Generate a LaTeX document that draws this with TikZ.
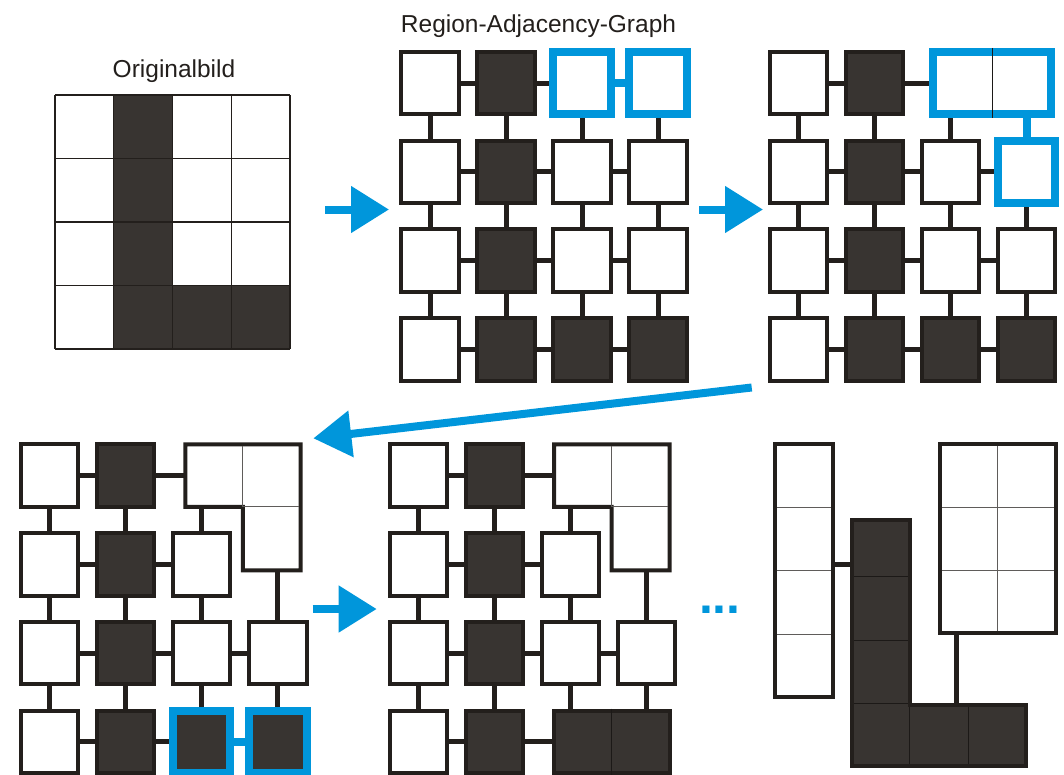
\documentclass[tikz,border=0pt]{standalone}
\usepackage{fontspec}
\setmainfont{Liberation Sans}
\usetikzlibrary{arrows.meta}

\definecolor{edge}{RGB}{35,31,28}
\definecolor{dfill}{RGB}{56,52,49}
\definecolor{rblue}{RGB}{0,150,219}
\definecolor{seamgray}{RGB}{95,92,90}
\definecolor{seamdark}{RGB}{28,25,23}

\pgfdeclarelayer{links}
\pgfsetlayers{links,main}

\tikzset{
  wsq/.style={rectangle, draw=edge, line width=4pt, fill=white, inner sep=0pt,
              minimum width=57.5pt, minimum height=62.5pt},
  dsq/.style={wsq, fill=dfill},
  bw/.style={wsq, draw=rblue, line width=8pt},
  bd/.style={dsq, draw=rblue, line width=8pt},
  region/.style={draw=edge, line width=4pt, line join=miter},
  link/.style={draw=edge, line width=5pt},
  blink/.style={draw=rblue, line width=8pt},
  seam/.style={draw=seamgray, line width=1pt},
  dseam/.style={draw=seamdark, line width=1pt},
  pixline/.style={draw=edge, line width=1.2pt},
  flow/.style={draw=rblue, line width=8pt, -{Triangle[length=38pt,width=45pt]}},
  lbl/.style={font=\fontsize{24.5}{29}\selectfont, text=edge, inner sep=0pt, anchor=base},
  more/.style={font=\fontsize{50}{60}\selectfont\bfseries, text=rblue, inner sep=0pt, anchor=base west},
}

% a panel of region squares: prefix, x of first column, y of first row, list col/row/style
\newcommand\squares[4]{%
  \foreach \c/\r/\s in {#4} {%
    \node[\s] (#1\c\r) at ({#2+(\c-1)*76.07},{#3+(\r-1)*88.75}) {};
  }%
}

% links along a row (columns 1-4) and down a column (rows from #3 to 4)
\newcommand\rowlinks[2]{\draw[link] (#11#2) -- (#12#2) (#12#2) -- (#13#2) (#13#2) -- (#14#2);}
\newcommand\collinks[2]{\draw[link] (#1#21) -- (#1#22) (#1#22) -- (#1#23) (#1#23) -- (#1#24);}

% merged L-shaped region (two cells on top, one below on the right)
\newcommand\Lregion[3]{%
  \draw[region, fill=white] (#2,#3) -- ++(115.4,0) -- ++(0,125.85) -- ++(-57.8,0)
        -- ++(0,-63.35) -- ++(-57.6,0) -- cycle;
  \draw[seam] (#2+57.6,#3+2) -- (#2+57.6,#3+62.5) -- (#2+113.4,#3+62.5);
  \coordinate (#1L) at (#2+57.6,#3+31.25);
  \coordinate (#1Llow) at (#2+86.5,#3+94.2);
}

\begin{document}
\begin{tikzpicture}[x=1pt,y=-1pt]
\useasboundingbox (0,0) rectangle (1064,774);

% ---------- original image ----------
\node[lbl] (title0) at (174,77.5) {Originalbild};
\fill[dfill] (113.75,95) rectangle (172.5,349);
\fill[dfill] (113.75,285.5) rectangle (290,349);
\foreach \x in {55,113.75,172.5,231.25,290} \draw[pixline] (\x,95) -- (\x,349);
\foreach \y in {95,158.5,222,285.5,349} \draw[pixline] (55,\y) -- (290,\y);

\node[lbl] (title1) at (538.5,32) {Region-Adjacency-Graph};

% ---------- step 1: full adjacency graph ----------
\squares{a}{430}{83}{1/1/wsq,2/1/dsq,3/1/bw,4/1/bw,
  1/2/wsq,2/2/dsq,3/2/wsq,4/2/wsq,
  1/3/wsq,2/3/dsq,3/3/wsq,4/3/wsq,
  1/4/wsq,2/4/dsq,3/4/dsq,4/4/dsq}
\begin{pgfonlayer}{links}
  \rowlinks{a}{1} \rowlinks{a}{2} \rowlinks{a}{3} \rowlinks{a}{4}
  \collinks{a}{1} \collinks{a}{2} \collinks{a}{3} \collinks{a}{4}
  \draw[blink] (a31) -- (a41);
\end{pgfonlayer}

% ---------- step 2 ----------
\squares{b}{798.4}{83}{1/1/wsq,2/1/dsq,
  1/2/wsq,2/2/dsq,3/2/wsq,4/2/bw,
  1/3/wsq,2/3/dsq,3/3/wsq,4/3/wsq,
  1/4/wsq,2/4/dsq,3/4/dsq,4/4/dsq}
\node[bw, minimum width=117.4pt] (bM) at (992,83) {};
\draw[dseam] (bM.north) -- (bM.south);
\begin{pgfonlayer}{links}
  \draw[link] (b11) -- (b21);
  \draw[link] (b21) -- (b21 -| bM);
  \draw[link] (b11) -- (b12);
  \draw[link] (b21) -- (b22);
  \draw[link] (b32) -- (b32 |- bM);
  \rowlinks{b}{2} \rowlinks{b}{3} \rowlinks{b}{4}
  \foreach \c in {1,2,3,4} \draw[link] (b\c2) -- (b\c3) (b\c3) -- (b\c4);
  \draw[blink] (b42) -- (b42 |- bM);
\end{pgfonlayer}

% ---------- step 3 ----------
\squares{c}{49.6}{475.7}{1/1/wsq,2/1/dsq,
  1/2/wsq,2/2/dsq,3/2/wsq,
  1/3/wsq,2/3/dsq,3/3/wsq,4/3/wsq,
  1/4/wsq,2/4/dsq,3/4/bd,4/4/bd}
\Lregion{c}{185.3}{444.45}
\begin{pgfonlayer}{links}
  \draw[link] (c11) -- (c21);
  \draw[link] (c21) -- (c21 -| cL);
  \draw[link] (c11) -- (c12);
  \draw[link] (c21) -- (c22);
  \draw[link] (c32) -- (c32 |- cL);
  \draw[link] (c12) -- (c22);
  \draw[link] (c22) -- (c32);
  \foreach \c in {1,2,3} \draw[link] (c\c2) -- (c\c3);
  \draw[link] (c43) -- (c43 |- cLlow);
  \rowlinks{c}{3}
  \foreach \c in {1,2,3,4} \draw[link] (c\c3) -- (c\c4);
  \draw[link] (c14) -- (c24);
  \draw[link] (c24) -- (c34);
  \draw[blink] (c34) -- (c44);
\end{pgfonlayer}

% ---------- step 4 ----------
\squares{d}{418.4}{475.7}{1/1/wsq,2/1/dsq,
  1/2/wsq,2/2/dsq,3/2/wsq,
  1/3/wsq,2/3/dsq,3/3/wsq,4/3/wsq,
  1/4/wsq,2/4/dsq}
\Lregion{d}{554.1}{444.45}
\node[dsq, minimum width=115.4pt] (dM) at (611.8,741.95) {};
\draw[dseam] (dM.north) -- (dM.south);
\begin{pgfonlayer}{links}
  \draw[link] (d11) -- (d21);
  \draw[link] (d21) -- (d21 -| dL);
  \draw[link] (d11) -- (d12);
  \draw[link] (d21) -- (d22);
  \draw[link] (d32) -- (d32 |- dL);
  \draw[link] (d12) -- (d22);
  \draw[link] (d22) -- (d32);
  \foreach \c in {1,2,3} \draw[link] (d\c2) -- (d\c3);
  \draw[link] (d43) -- (d43 |- dLlow);
  \rowlinks{d}{3}
  \draw[link] (d13) -- (d14);
  \draw[link] (d23) -- (d24);
  \draw[link] (d33) -- (d33 |- dM);
  \draw[link] (d43) -- (d43 |- dM);
  \draw[link] (d14) -- (d24);
  \draw[link] (d24) -- (d24 -| dM);
\end{pgfonlayer}

% ---------- final regions ----------
\node[wsq, minimum width=58pt, minimum height=253pt] (eW) at (804.3,570.8) {};
\foreach \y in {507.3,570.7,634} \draw[seam] (777.3,\y) -- (831.3,\y);
\node[wsq, minimum width=116pt, minimum height=188.7pt] (eR) at (997.7,538.65) {};
\draw[seam] (997.7,446.3) -- (997.7,631);
\foreach \y in {507.3,570.7} \draw[seam] (941.7,\y) -- (1053.7,\y);
\draw[region, fill=dfill] (852,520.3) -- (909.7,520.3) -- (909.7,704.7) -- (1026.3,704.7)
      -- (1026.3,766.3) -- (852,766.3) -- cycle;
\foreach \y in {576.7,640,703.8} \draw[dseam] (854,\y) -- (907.7,\y);
\foreach \x in {909.5,968.3} \draw[dseam] (\x,706.7) -- (\x,764.3);
\coordinate (eLa) at (880,564.3);
\coordinate (eLb) at (956.7,735);
\begin{pgfonlayer}{links}
  \draw[link] (eLa) -- (eLa -| eW);
  \draw[link] (eLb) -- (eLb |- eR);
\end{pgfonlayer}

% ---------- flow arrows ----------
\coordinate (f1s) at (325,209.5);   \coordinate (f1e) at (389,209.5);
\coordinate (f2s) at (699,209.5);   \coordinate (f2e) at (763,209.5);
\coordinate (f3s) at (751.7,387.5); \coordinate (f3e) at (313.3,438.3);
\coordinate (f4s) at (312.7,609);   \coordinate (f4e) at (376.7,609);
\draw[flow] (f1s) -- (f1e);
\draw[flow] (f2s) -- (f2e);
\draw[flow] (f3s) -- (f3e);
\draw[flow] (f4s) -- (f4e);

\node[more] (dots) at (698.8,613.7) {...};
\end{tikzpicture}
\end{document}
